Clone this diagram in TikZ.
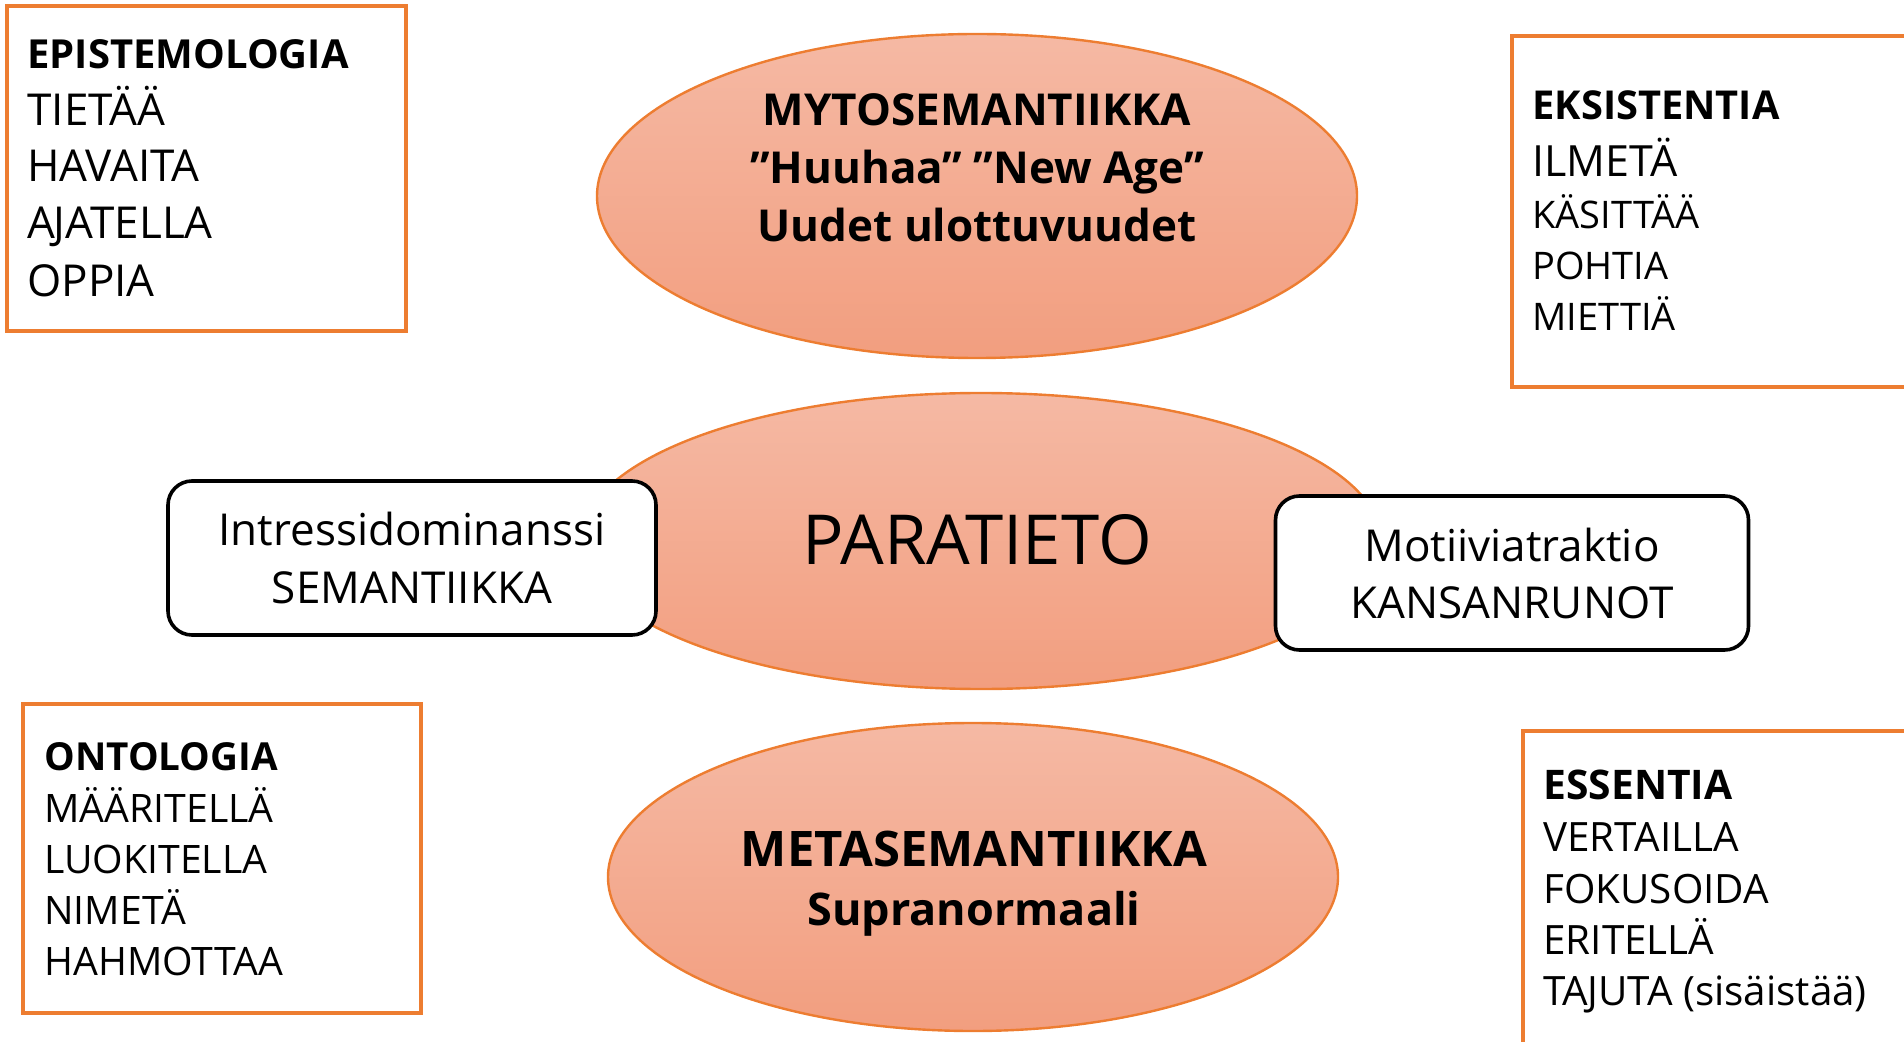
\documentclass[tikz,border=0pt]{standalone}
\usepackage{fontspec}
\setmainfont{Open Sans}
\usepackage{tikz}
\usetikzlibrary{shapes.geometric}
\definecolor{orng}{RGB}{237,125,49}
\definecolor{salmtop}{RGB}{245,185,164}
\definecolor{salmbot}{RGB}{242,158,127}

\begin{document}
\begin{tikzpicture}[x=0.5pt,y=-0.5pt,
		blob/.style={ellipse,draw=orng,line width=1.2pt,top color=salmtop,bottom color=salmbot,inner sep=0pt},
		obox/.style={draw=orng,line width=2pt},
		rbox/.style={draw=black,line width=1.8pt,fill=white,rounded corners=12pt,align=center,inner sep=0pt},
		item/.style={anchor=base west,inner sep=0pt}]
	\useasboundingbox (0,0) rectangle (1904,1042);
	
	%ellipses
	\node[blob,minimum width=380pt,minimum height=162pt] (myto) at (977,196) {};
	\node[blob,minimum width=400pt,minimum height=148pt] (para) at (981,541) {};
	\node[blob,minimum width=365pt,minimum height=154pt] (meta) at (973,877) {};
	
	\node[font=\bfseries\fontsize{22}{29}\selectfont,align=center] (mytotxt) at (977,168) {MYTOSEMANTIIKKA\\”Huuhaa” ”New Age”\\Uudet ulottuvuudet};
	\node[font=\fontsize{34.5}{40}\selectfont] (paratxt) at (977,540) {PARATIETO};
	\node[font=\bfseries\fontsize{24.5}{29.5}\selectfont,align=center] (metatxt) at (974,884) {METASEMANTIIKKA\\{\fontsize{22.5}{29.5}\selectfont Supranormaali}};
	
	%side boxes
	\node[rbox,minimum width=244pt,minimum height=77pt,font=\fontsize{22}{28.5}\selectfont] (intr) at (412,558) {Intressidominanssi\\SEMANTIIKKA};
	\node[rbox,minimum width=236.5pt,minimum height=77pt,font=\fontsize{22}{28.5}\selectfont] (moti) at (1512,573) {Motiiviatraktio\\KANSANRUNOT};
	
	%epistemologia
	\draw[obox] (7,6) rectangle (406,331);
	\node[item,font=\bfseries\fontsize{20}{20}\selectfont] (epi) at (27,69) {EPISTEMOLOGIA};
	\foreach \w/\y [count=\i] in {TIETÄÄ/126,HAVAITA/182,{A\kern-.03em JATELLA}/239,OPPIA/297}
		\node[item,font=\fontsize{22}{22}\selectfont] (epi\i) at (27,\y) {\w};
	
	%eksistentia
	\draw[obox] (1920,387) -- (1512,387) -- (1512,36) -- (1920,36);
	\node[item,font=\bfseries\fontsize{19.9}{19.9}\selectfont] (eks) at (1532,120) {EKSISTENTIA};
	\node[item,font=\fontsize{21.5}{21.5}\selectfont] (eks1) at (1532,177) {ILMETÄ};
	\foreach \w/\y [count=\i from 2] in {KÄSITTÄÄ/229,POHTIA/280,MIETTIÄ/331}
		\node[item,font=\fontsize{19}{19}\selectfont] (eks\i) at (1532,\y) {\w};
	
	%ontologia
	\draw[obox] (23,704) rectangle (421,1013);
	\node[item,font=\bfseries\fontsize{19.3}{19.3}\selectfont] (ont) at (44,770) {ONTOLOGIA};
	\foreach \w/\y [count=\i] in {MÄÄRITELLÄ/822,LUOKITELLA/873,NIMETÄ/924,HAHMOTTAA/975}
		\node[item,font=\fontsize{19.6}{19.6}\selectfont] (ont\i) at (44,\y) {\w};
	
	%essentia
	\draw[obox] (1523,1060) -- (1523,731) -- (1920,731);
	\node[item,font=\bfseries\fontsize{20.4}{20.4}\selectfont] (ess) at (1543,799) {ESSENTIA};
	\foreach \w/\y [count=\i] in {VERTAILLA/851,FOKUSOIDA/903,ERITELLÄ/954,{TA\kern-.03em JUTA (sisäistää)}/1005}
		\node[item,font=\fontsize{20.2}{20.2}\selectfont] (ess\i) at (1543,\y) {\w};
	
\end{tikzpicture}
\end{document}
